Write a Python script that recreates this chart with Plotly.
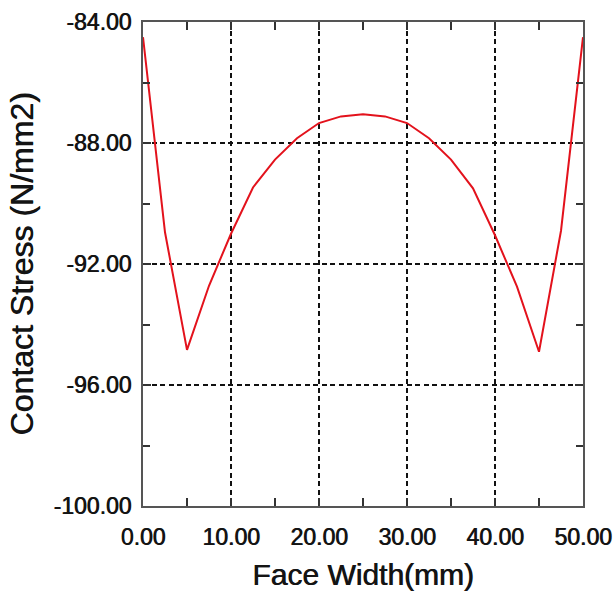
import plotly.graph_objects as go

# Data (values every 2.5 mm of face width)
face_width = [0, 2.5, 5, 7.5, 10, 12.5, 15, 17.5, 20, 22.5, 25,
              27.5, 30, 32.5, 35, 37.5, 40, 42.5, 45, 47.5, 50]
contact_stress = [-84.5, -90.95, -94.84, -92.72, -91.0, -89.47, -88.55, -87.84, -87.34, -87.12, -87.05,
                  -87.12, -87.34, -87.84, -88.55, -89.5, -91.05, -92.75, -94.9, -90.9, -84.5]

x_tick_vals = [0, 10, 20, 30, 40, 50]
x_tick_labels = ["0.00", "10.00", "20.00", "30.00", "40.00", "50.00"]
y_tick_vals = [-100, -96, -92, -88, -84]
y_tick_labels = ["-100.00", "-96.00", "-92.00", "-88.00", "-84.00"]

font_family = "Liberation Sans, Arial, sans-serif"
text_color = "#141414"
text_shadow = "0.7px 0px 0px #141414"

fig = go.Figure()
fig.add_trace(go.Scatter(
    x=face_width, y=contact_stress, mode="lines",
    line=dict(color="#e3121c", width=2), showlegend=False,
))

axis_common = dict(
    showline=True, linecolor="#555555", linewidth=2, mirror="ticks",
    ticks="inside", ticklen=8, tickwidth=1.5, tickcolor="#333333",
    showgrid=True, gridcolor="#111111", gridwidth=1.5, griddash="5px,3.5px",
    zeroline=False,
    tickfont=dict(family=font_family, size=23, color=text_color, shadow=text_shadow),
)

fig.update_xaxes(
    range=[0, 50], tickmode="array", tickvals=x_tick_vals, ticktext=x_tick_labels,
    minor=dict(dtick=5, tick0=0, ticks="inside", ticklen=8, tickwidth=1.5,
               tickcolor="#333333", showgrid=False),
    ticklabelstandoff=9,
    title=dict(text="Face Width(mm)",
               font=dict(family=font_family, size=30, color=text_color, shadow=text_shadow),
               standoff=15),
    **axis_common,
)
fig.update_yaxes(
    range=[-100, -84], tickmode="array", tickvals=y_tick_vals, ticktext=y_tick_labels,
    minor=dict(dtick=2, tick0=-100, ticks="inside", ticklen=7, tickwidth=1.5,
               tickcolor="#333333", showgrid=False),
    ticklabelstandoff=5,
    title=dict(text="Contact Stress (N/mm2)",
               font=dict(family=font_family, size=32, color=text_color, shadow=text_shadow),
               standoff=10),
    **axis_common,
)

fig.update_layout(
    width=613, height=593,
    margin=dict(l=143, r=30, t=22, b=87, autoexpand=False),
    paper_bgcolor="white", plot_bgcolor="white",
)

fig.write_html("out.html", config={"displayModeBar": False},
               post_script="document.body.style.margin='0';")
